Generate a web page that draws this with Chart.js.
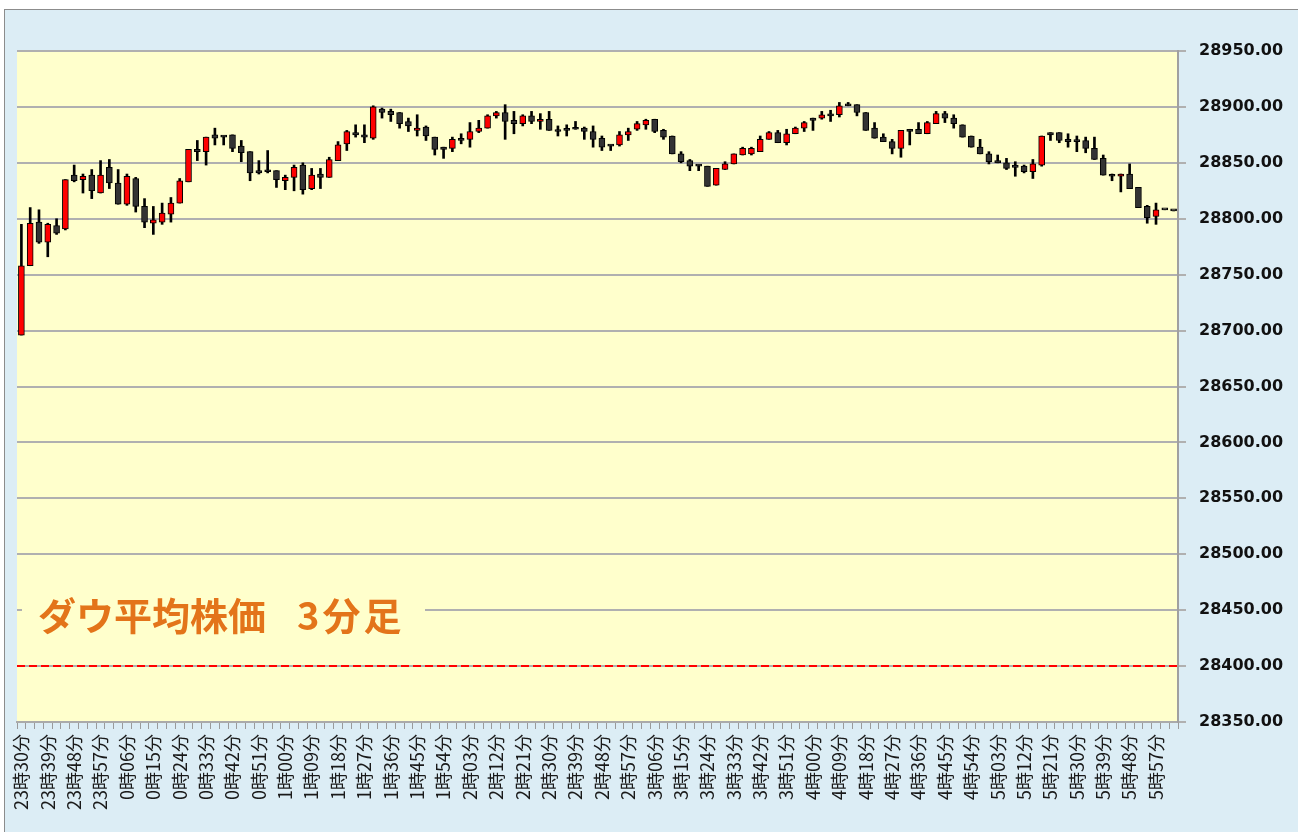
<!DOCTYPE html>
<html lang="ja">
<head>
<meta charset="utf-8">
<title>ダウ平均株価 3分足</title>
<script src="https://cdn.jsdelivr.net/npm/chart.js@4.4.1/dist/chart.umd.min.js"></script>
<style>
  html, body { margin: 0; padding: 0; background: #ffffff; overflow: hidden; }
  #frame { position: absolute; left: 4px; top: 9px; width: 1310px; height: 840px;
           border: 1px solid #8c8c8c; background: #dcedf5; }
  #wrap { position: absolute; left: 0; top: 0; width: 1298px; height: 832px; }
  #title { position: absolute; left: 22px; top: 593px; padding: 0 21px 0 16px;
           background: #ffffcc; color: #e3741a; font-family: "Noto Sans CJK JP", sans-serif;
           font-weight: bold; font-size: 38px; line-height: 42px; white-space: pre; }
  #title .gap { font-size: 31px; }
  #title .tail { letter-spacing: 3px; }
</style>
</head>
<body>
<div id="frame"></div>
<div id="wrap"><canvas id="c" width="1298" height="832"></canvas></div>
<div id="title">ダウ平均株価<span class="gap">　</span><span class="tail">3分足</span></div>
<script>
// ---- data ----
const categories = [
  "23時30分","23時33分","23時36分","23時39分","23時42分","23時45分","23時48分","23時51分","23時54分","23時57分",
  "0時00分","0時03分","0時06分","0時09分","0時12分","0時15分","0時18分","0時21分","0時24分","0時27分",
  "0時30分","0時33分","0時36分","0時39分","0時42分","0時45分","0時48分","0時51分","0時54分","0時57分",
  "1時00分","1時03分","1時06分","1時09分","1時12分","1時15分","1時18分","1時21分","1時24分","1時27分",
  "1時30分","1時33分","1時36分","1時39分","1時42分","1時45分","1時48分","1時51分","1時54分","1時57分",
  "2時00分","2時03分","2時06分","2時09分","2時12分","2時15分","2時18分","2時21分","2時24分","2時27分",
  "2時30分","2時33分","2時36分","2時39分","2時42分","2時45分","2時48分","2時51分","2時54分","2時57分",
  "3時00分","3時03分","3時06分","3時09分","3時12分","3時15分","3時18分","3時21分","3時24分","3時27分",
  "3時30分","3時33分","3時36分","3時39分","3時42分","3時45分","3時48分","3時51分","3時54分","3時57分",
  "4時00分","4時03分","4時06分","4時09分","4時12分","4時15分","4時18分","4時21分","4時24分","4時27分",
  "4時30分","4時33分","4時36分","4時39分","4時42分","4時45分","4時48分","4時51分","4時54分","4時57分",
  "5時00分","5時03分","5時06分","5時09分","5時12分","5時15分","5時18分","5時21分","5時24分","5時27分",
  "5時30分","5時33分","5時36分","5時39分","5時42分","5時45分","5時48分","5時51分","5時54分","5時57分",
  "6時00分","6時03分"
];

const openP = [
  28696,28758,28797,28779,28794,28791,28839,28835,28839,28823,
  28846,28832,28813,28836,28811,28796,28797,28804,28814,28833,
  28862,28860,28875,28874,28875,28865,28860,28843,28843,28843,
  28834,28837,28848,28827,28840,28837,28852,28867,28877,28875,
  28872,28898,28896,28895,28887,28879,28882,28873,28864,28863,
  28872,28871,28878,28881,28892,28895,28888,28885,28892,28887,
  28889,28879,28880,28881,28881,28878,28872,28866,28866,28875,
  28880,28884,28889,28879,28874,28858,28852,28848,28847,28830,
  28844,28849,28857,28858,28860,28871,28877,28868,28876,28881,
  28890,28890,28893,28893,28902,28902,28895,28881,28873,28869,
  28863,28880,28880,28876,28885,28894,28890,28884,28874,28864,
  28858,28852,28850,28848,28847,28842,28848,28877,28877,28871,
  28870,28870,28863,28854,28839,28838,28840,28828,28811,28802,
  28808,28807
];
const highP = [
  28795,28810,28808,28796,28800,28835,28848,28840,28844,28852,
  28853,28844,28840,28837,28818,28811,28814,28819,28836,28862,
  28870,28873,28881,28874,28875,28870,28860,28852,28861,28843,
  28839,28848,28850,28845,28845,28855,28869,28879,28884,28884,
  28901,28899,28898,28895,28890,28893,28883,28873,28864,28873,
  28876,28886,28888,28893,28896,28902,28896,28893,28896,28894,
  28896,28883,28884,28887,28882,28883,28874,28866,28878,28881,
  28887,28889,28889,28880,28874,28860,28853,28848,28847,28845,
  28851,28858,28864,28864,28874,28878,28879,28880,28882,28887,
  28890,28896,28897,28904,28904,28902,28895,28886,28876,28871,
  28879,28880,28886,28887,28896,28896,28893,28884,28874,28871,
  28860,28857,28854,28851,28848,28853,28874,28877,28877,28876,
  28874,28873,28873,28857,28840,28840,28849,28828,28812,28814,
  28808,28807
];
const lowP = [
  28696,28758,28778,28766,28786,28790,28833,28823,28818,28823,
  28827,28813,28812,28806,28792,28786,28795,28797,28814,28833,
  28852,28848,28866,28866,28860,28851,28834,28840,28841,28828,
  28826,28825,28822,28826,28827,28837,28852,28861,28873,28868,
  28871,28890,28887,28881,28878,28874,28870,28857,28854,28860,
  28867,28864,28877,28881,28890,28871,28876,28883,28885,28880,
  28879,28874,28874,28880,28871,28864,28861,28861,28865,28870,
  28879,28880,28877,28871,28858,28850,28843,28843,28829,28830,
  28844,28849,28857,28857,28860,28871,28868,28866,28876,28878,
  28879,28889,28887,28891,28901,28892,28879,28872,28869,28858,
  28855,28866,28876,28876,28885,28886,28881,28873,28864,28858,
  28849,28850,28844,28838,28841,28836,28847,28870,28868,28864,
  28860,28859,28853,28839,28834,28824,28827,28810,28796,28795,
  28808,28807
];
const closeP = [
  28758,28796,28779,28795,28787,28835,28834,28838,28825,28839,
  28832,28813,28838,28811,28797,28799,28805,28814,28834,28862,
  28860,28873,28872,28873,28863,28859,28841,28841,28842,28835,
  28837,28846,28826,28839,28837,28853,28866,28878,28875,28873,
  28900,28895,28893,28885,28883,28881,28874,28862,28862,28871,
  28870,28878,28881,28892,28895,28887,28885,28892,28887,28889,
  28879,28878,28879,28880,28878,28871,28864,28865,28875,28878,
  28885,28888,28878,28873,28858,28851,28847,28847,28829,28845,
  28849,28858,28863,28863,28871,28877,28868,28876,28881,28886,
  28888,28893,28892,28901,28901,28895,28879,28872,28869,28863,
  28879,28878,28876,28886,28894,28890,28885,28873,28864,28858,
  28851,28850,28845,28846,28842,28849,28874,28875,28870,28869,
  28869,28863,28853,28839,28838,28840,28827,28810,28801,28808,
  28808,28807
];

const priceTicks = [28350,28400,28450,28500,28550,28600,28650,28700,28750,28800,28850,28900,28950];
const labelEvery = 3;          // a time label on every third bar
const refLevel = 28400;        // red dashed reference line

const upColor = '#ff0000';
const downColor = '#333333';

// ---- datasets built from the arrays ----
const bodyData = categories.map((_, i) => [openP[i], closeP[i]]);
const wickData = categories.map((_, i) => [lowP[i], highP[i]]);
const bodyColors = categories.map((_, i) => closeP[i] > openP[i] ? upColor : downColor);

const plotBg = {
  id: 'plotBg',
  beforeDraw(chart) {
    const { ctx, chartArea: a } = chart;
    ctx.save();
    ctx.fillStyle = '#ffffcc';
    ctx.fillRect(a.left, a.top, a.right - a.left, a.bottom - a.top);
    ctx.restore();
  }
};
const refLine = {
  id: 'refLine',
  beforeDatasetsDraw(chart) {
    const { ctx, chartArea: a, scales } = chart;
    const y = Math.round(scales.y.getPixelForValue(refLevel));
    ctx.save();
    ctx.strokeStyle = '#ff0000';
    ctx.lineWidth = 2;
    ctx.setLineDash([8, 4]);
    ctx.beginPath();
    ctx.moveTo(a.left, y);
    ctx.lineTo(a.right, y);
    ctx.stroke();
    ctx.restore();
  }
};

new Chart(document.getElementById('c'), {
  type: 'bar',
  data: {
    labels: categories,
    datasets: [
      {
        label: 'body',
        data: bodyData,
        backgroundColor: bodyColors,
        borderColor: '#000000',
        borderWidth: 1,
        borderSkipped: false,
        barThickness: 6,
        minBarLength: 2,
        grouped: false,
        order: 1
      },
      {
        label: 'wick',
        data: wickData,
        backgroundColor: '#000000',
        borderWidth: 0,
        barThickness: 2,
        grouped: false,
        order: 2
      }
    ]
  },
  options: {
    responsive: false,
    animation: false,
    devicePixelRatio: 1,
    layout: { padding: { left: 17, top: 51, right: 0, bottom: 0 } },
    plugins: { legend: { display: false }, tooltip: { enabled: false } },
    scales: {
      x: {
        type: 'category',
        offset: true,
        grid: { drawOnChartArea: false, drawTicks: true, tickLength: 7, color: '#9a9a9a', offset: true },
        border: { display: true, color: '#aaaaaa', width: 2 },
        ticks: {
          autoSkip: false,
          maxRotation: 90,
          minRotation: 90,
          padding: 5,
          color: '#1a1a1a',
          font: { family: '"Noto Sans CJK JP", sans-serif', size: 18 },
          callback: (v, i) => (i % labelEvery === 0 ? categories[i] : '')
        },
        afterFit: (s) => { s.height = 110; }
      },
      y: {
        position: 'right',
        min: priceTicks[0],
        max: priceTicks[priceTicks.length - 1],
        afterBuildTicks: (s) => { s.ticks = priceTicks.map(v => ({ value: v })); },
        grid: { color: '#b0b0b0', lineWidth: 2, tickLength: 8 },
        border: { display: true, color: '#a0a0a0', width: 2 },
        ticks: {
          padding: 13,
          color: '#111111',
          font: { family: '"DejaVu Sans", sans-serif', size: 16, weight: 'bold' },
          callback: (v) => Number(v).toFixed(2)
        },
        afterFit: (s) => { s.width = 120; }
      }
    }
  },
  plugins: [plotBg, refLine]
});
</script>
</body>
</html>
